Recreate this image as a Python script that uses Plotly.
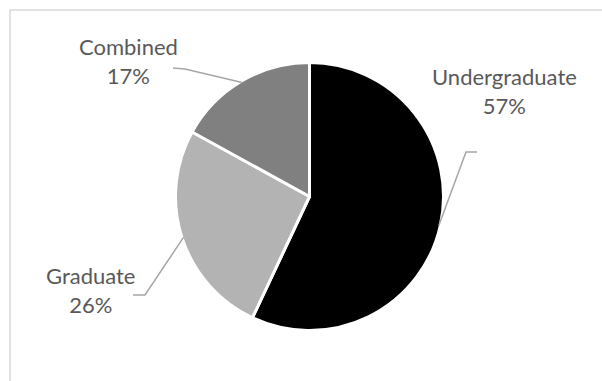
import math
import plotly.graph_objects as go

# Share of programs by level
categories = ["Undergraduate", "Graduate", "Combined"]
shares = [57, 26, 17]
slice_colors = ["#000000", "#b3b3b3", "#808080"]

W, H = 602, 381
CX, CY, R = 309.5, 196.5, 134.0   # pie centre and radius in pixels
EDGE_R = R - 1.5                   # visible edge inside the white outline

# label block centres and leader-line elbows (pixels)
label_pos = {
    "Undergraduate": (504.0, 91.0),
    "Graduate": (90.0, 290.0),
    "Combined": (128.0, 61.5),
}
elbows = {
    "Undergraduate": [(477, 152), (466, 152)],
    "Graduate": [(133, 295), (145, 295)],
    "Combined": [(173, 68), (185, 69)],
}


def px(x):
    return x / W


def py(y):
    return 1 - y / H


fig = go.Figure(
    go.Pie(
        labels=categories,
        values=shares,
        sort=False,
        direction="clockwise",
        rotation=0,
        marker=dict(colors=slice_colors, line=dict(color="#ffffff", width=3)),
        textinfo="none",
        hoverinfo="label+percent",
        domain=dict(x=[px(CX - R), px(CX + R)], y=[py(CY + R), py(CY - R)]),
        showlegend=False,
    )
)

total = sum(shares)
cum = 0
shapes = []
annotations = []
for name, val in zip(categories, shares):
    mid = (cum + val / 2) / total * 2 * math.pi
    cum += val
    ex = CX + EDGE_R * math.sin(mid)
    ey = CY - EDGE_R * math.cos(mid)
    pts = elbows[name] + [(ex, ey)]
    path = "M " + " L ".join(f"{px(x):.5f},{py(y):.5f}" for x, y in pts)
    shapes.append(
        dict(type="path", xref="paper", yref="paper", path=path,
             line=dict(color="#a6a6a6", width=1.5))
    )
    lx, ly = label_pos[name]
    annotations.append(
        dict(x=px(lx), y=py(ly), xref="paper", yref="paper",
             xanchor="center", yanchor="middle", showarrow=False,
             text=f"{name}<br>{round(val / total * 100)}%",
             font=dict(family="Lato", size=22, color="#595959"))
    )

# chart-area frame
shapes.append(
    dict(type="rect", xref="paper", yref="paper",
         x0=px(10), x1=1.02, y0=-0.02, y1=py(10),
         line=dict(color="#d9d9d9", width=1.5), fillcolor="rgba(0,0,0,0)")
)

fig.update_layout(
    width=W, height=H,
    margin=dict(l=0, r=0, t=0, b=0),
    paper_bgcolor="#ffffff",
    plot_bgcolor="#ffffff",
    shapes=shapes,
    annotations=annotations,
)

fig.write_html("out.html")
